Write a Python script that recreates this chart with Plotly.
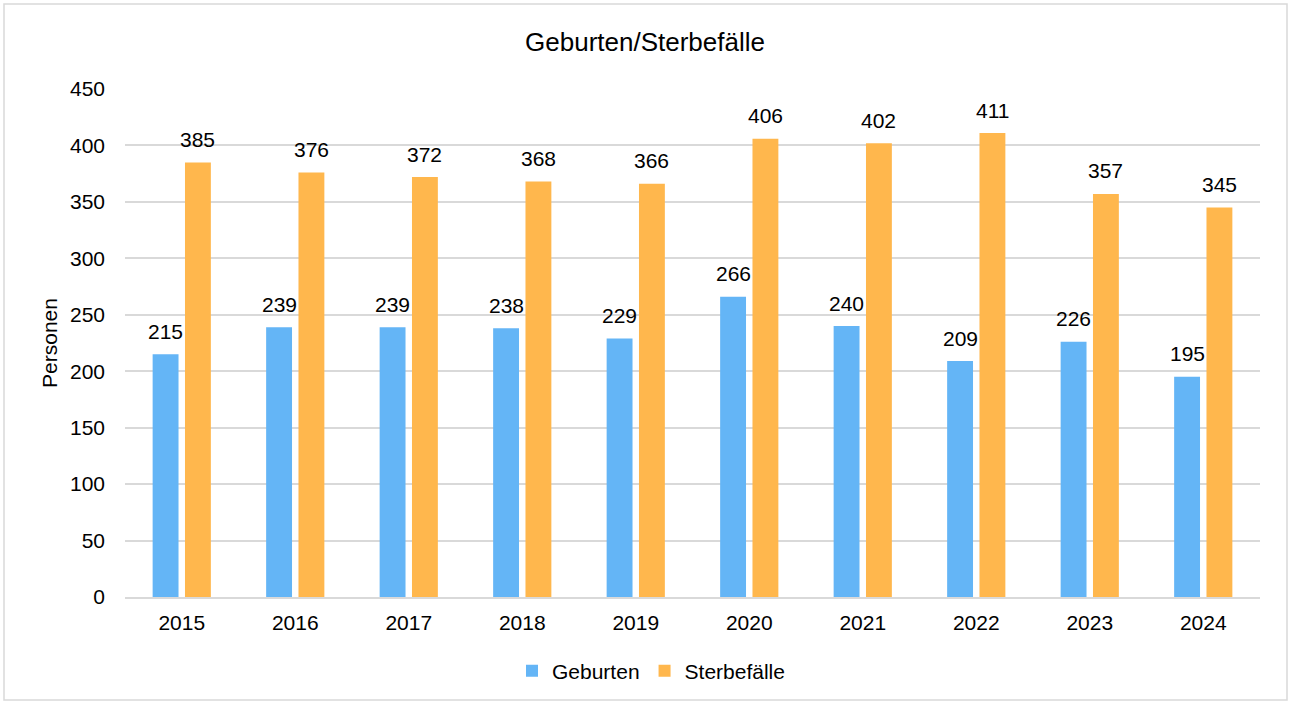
import plotly.graph_objects as go

years = ['2015', '2016', '2017', '2018', '2019', '2020', '2021', '2022', '2023', '2024']
geburten = [215, 239, 239, 238, 229, 266, 240, 209, 226, 195]
sterbefaelle = [385, 376, 372, 368, 366, 406, 402, 411, 357, 345]

BLUE = '#64B5F6'
ORANGE = '#FFB74D'
FONT = 'Liberation Sans, Arial, sans-serif'
W, H = 1290, 704
L, R, T, B = 125, 30, 89, 107

fig = go.Figure()
series = [('Geburten', geburten, BLUE, -16.2), ('Sterbefälle', sterbefaelle, ORANGE, 16.2)]
for name, vals, col, shift in series:
    fig.add_trace(go.Bar(x=years, y=vals, name=name, marker_color=col, marker_line_width=0))
    # value labels above each bar (category index, since years look numeric)
    for i, v in enumerate(vals):
        fig.add_annotation(x=i, y=v, text=str(v), showarrow=False,
                           xshift=shift, yshift=23, yanchor='middle',
                           font=dict(size=21, color='#000'))

pw, ph = W - L - R, H - T - B
fig.update_layout(
    width=W, height=H,
    margin=dict(l=L, r=R, t=T, b=B),
    paper_bgcolor='#FFF', plot_bgcolor='#FFF',
    font=dict(family=FONT, size=21, color='#000'),
    title=dict(text='Geburten/Sterbefälle', x=0.5, xanchor='center',
               y=1 - 42 / H, yanchor='middle', font=dict(size=26)),
    barmode='group', bargap=0.43, bargroupgap=0.2,
    showlegend=True,
    legend=dict(orientation='h', x=(651 - L) / pw, xanchor='center',
                y=-(671 - (H - B)) / ph, yanchor='middle',
                itemwidth=30, font=dict(size=21), traceorder='normal'),
)
fig.update_yaxes(
    range=[0, 450], dtick=50, showgrid=True, gridcolor='#D9D9D9', gridwidth=1.5,
    zeroline=False, showline=False, ticklabelstandoff=19,
    title=dict(text='Personen', standoff=6, font=dict(size=21)),
)
fig.update_xaxes(
    type='category', range=[-0.5, len(years) - 0.5], autorange=False,
    showline=True, linecolor='#D9D9D9', linewidth=1.5,
    ticks='', ticklabelstandoff=6,
)
# light grey frame around the whole chart
fig.add_shape(type='rect', xref='paper', yref='paper',
              x0=(4 - L) / pw, x1=(1287 - L) / pw,
              y0=(H - B - 700) / ph, y1=(H - B - 4) / ph,
              line=dict(color='#D9D9D9', width=1.5), fillcolor='rgba(0,0,0,0)')

fig.write_html('out.html', config={'displayModeBar': False},
               post_script="document.body.style.margin='0';")
